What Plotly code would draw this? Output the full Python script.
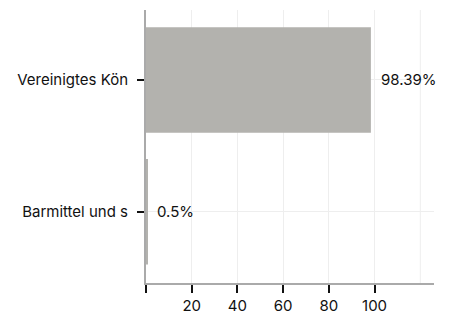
import plotly.graph_objects as go

categories = ["Barmittel und s", "Vereinigtes Kön"]
values = [0.5, 98.39]
labels = ["0.5%", "98.39%"]
tick_vals = [0, 20, 40, 60, 80, 100]
tick_text = ["", "20", "40", "60", "80", "100"]

fig = go.Figure(go.Bar(
    y=categories, x=values, orientation="h",
    marker=dict(color="#b3b2ae", line=dict(width=0)),
    width=0.8, hoverinfo="x+y",
))
for cat, val, lab in zip(categories, values, labels):
    fig.add_annotation(x=val, y=cat, text=lab, showarrow=False,
                       xanchor="left", yanchor="middle", xshift=8,
                       font=dict(family="Inter", size=15, color="#111111"))
fig.update_layout(
    width=441, height=305,
    margin=dict(l=138, r=15, t=2, b=30),
    plot_bgcolor="white", paper_bgcolor="white",
    font=dict(family="Inter", size=15, color="#111111"),
    showlegend=False,
    shapes=[dict(type="line", xref="x", yref="paper", x0=120, x1=120, y0=0, y1=1,
                 line=dict(color="#eeeeee", width=1), layer="below")],
)
fig.update_xaxes(
    range=[0, 126], tickvals=tick_vals, ticktext=tick_text,
    showgrid=True, gridcolor="#eeeeee", gridwidth=1,
    showline=True, linecolor="#aaaaaa", linewidth=2,
    ticks="outside", tickcolor="#111111", ticklen=8, tickwidth=2,
    zeroline=False, automargin=False,
)
fig.update_yaxes(
    range=[-0.54, 1.53],
    showgrid=True, gridcolor="#eeeeee", gridwidth=1,
    showline=True, linecolor="#aaaaaa", linewidth=2,
    ticks="outside", tickcolor="#111111", ticklen=7, tickwidth=2,
    ticklabelstandoff=6, automargin=False,
)
fig.write_html("out.html")
